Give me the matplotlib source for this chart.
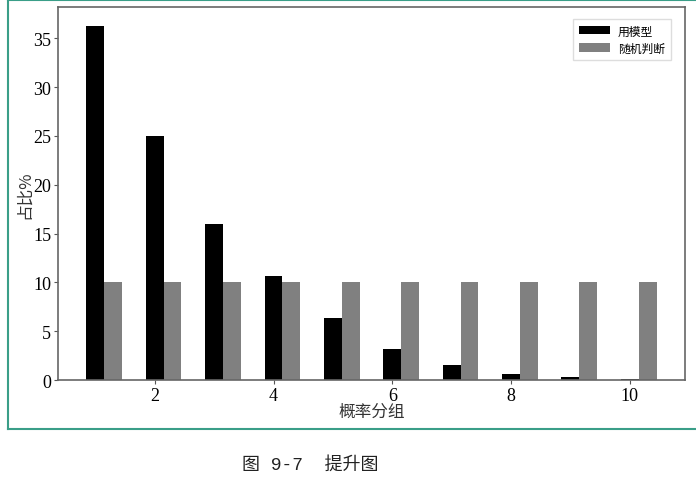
from matplotlib import pyplot as plt
from matplotlib.lines import Line2D
import numpy as np

plt.rcParams['font.family'] = ['Noto Sans CJK SC', 'DejaVu Sans']

groups = [1, 2, 3, 4, 5, 6, 7, 8, 9, 10]
model_pct = [36.3, 25.0, 16.0, 10.7, 6.3, 3.2, 1.5, 0.6, 0.3, 0.1]
random_pct = [10, 10, 10, 10, 10, 10, 10, 10, 10, 10]
xticks = [2, 4, 6, 8, 10]
yticks = [0, 5, 10, 15, 20, 25, 30, 35]

fig = plt.figure(figsize=(6.96, 4.85), dpi=100)
ax = fig.add_axes([0.0833, 0.2144, 0.9009, 0.7691])

x = np.array(groups)
w = 0.3
ax.bar(x, model_pct, width=w, color='black', label='用模型')
ax.bar(x + w, random_pct, width=w, color='#808080', label='随机判断')

ax.set_xticks(xticks)
ax.set_yticks(yticks)
ax.set_ylim(0, 38.2)
for lab in ax.get_xticklabels() + ax.get_yticklabels():
    lab.set_fontfamily('Liberation Serif')
    lab.set_fontsize(13)
ax.tick_params(length=3, width=0.8, color='#555555', pad=2)
for s in ax.spines.values():
    s.set_color('#666666')
    s.set_linewidth(1.2)

ax.set_xlabel('概率分组', fontsize=12, color='#333333', labelpad=-1)
ax.set_ylabel('占比%', fontsize=12, color='#333333', labelpad=0)
ax.legend(loc='upper right', fontsize=8.5, handlelength=2.6, framealpha=1,
          edgecolor='#dddddd', fancybox=False, borderpad=0.5,
          labelspacing=0.35, handletextpad=0.7,
          bbox_to_anchor=(0.987, 0.985))

# green frame around the figure part
green = '#3a9e88'
fig.add_artist(Line2D([8/696, 8/696], [1 - 1/485, 1 - 430/485], color=green, lw=1.5))
fig.add_artist(Line2D([8/696, 1], [1 - 1/485, 1 - 1/485], color=green, lw=1.5))
fig.add_artist(Line2D([8/696, 1], [1 - 430/485, 1 - 430/485], color=green, lw=1.5))

fig.text(310/696, 1 - 465/485, '图 9-7  提升图', ha='center', va='center',
         fontsize=13, color='#222222',
         family=['Liberation Mono', 'Noto Sans CJK SC'])

plt.savefig('out.png', dpi=100)
